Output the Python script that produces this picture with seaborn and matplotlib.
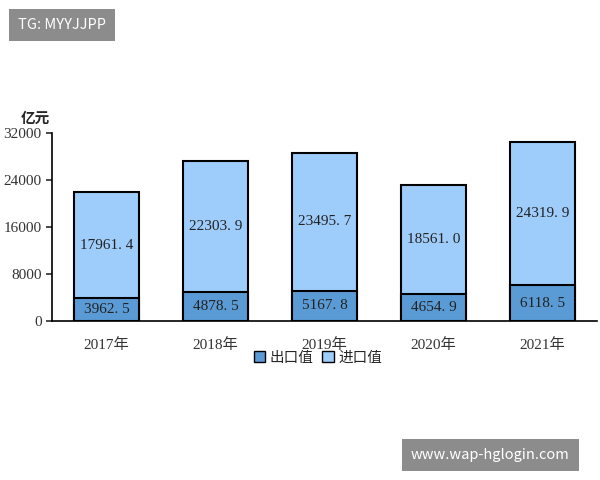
import numpy as np
import pandas as pd
import matplotlib
matplotlib.use("Agg")
import matplotlib.pyplot as plt
import seaborn as sns
from matplotlib.patches import Patch

years = ["2017年", "2018年", "2019年", "2020年", "2021年"]
export_vals = [3962.5, 4878.5, 5167.8, 4654.9, 6118.5]
import_vals = [17961.4, 22303.9, 23495.7, 18561.0, 24319.9]

sns.set_theme(style="white")
plt.rcParams["font.family"] = ["Noto Sans CJK SC", "DejaVu Sans"]

df = pd.DataFrame({"year": years, "export": export_vals, "import": import_vals})
df["total"] = df["export"] + df["import"]

fig = plt.figure(figsize=(6, 4.8), dpi=100)
ax = fig.add_axes([0.087, 0.331, 0.908, 0.392])

dark = "#5b9bd5"
light = "#9fcdfb"
sns.barplot(data=df, x="year", y="total", color=light, edgecolor="black", linewidth=1.5,
            width=0.6, saturation=1, ax=ax)
sns.barplot(data=df, x="year", y="export", color=dark, edgecolor="black", linewidth=1.5,
            width=0.6, saturation=1, ax=ax)

serif = ["Liberation Serif", "DejaVu Serif"]
for i, (e, m) in enumerate(zip(export_vals, import_vals)):
    ax.text(i, e / 2, f"{e:.1f}".replace(".", ". "), ha="center", va="center",
            fontsize=11, family=serif, color="#222222")
    ax.text(i, e + m / 2, f"{m:.1f}".replace(".", ". "), ha="center", va="center",
            fontsize=11, family=serif, color="#222222")

ax.set_ylim(0, 32000)
ax.set_yticks([0, 8000, 16000, 24000, 32000])
ax.set_xlim(-0.5, 4.5)
ax.set_xlabel("")
ax.set_ylabel("")
for s in ["top", "right"]:
    ax.spines[s].set_visible(False)
for s in ["left", "bottom"]:
    ax.spines[s].set_color("black")
    ax.spines[s].set_linewidth(1.2)
ax.tick_params(axis="y", left=True, direction="out", length=4, labelsize=11, colors="#333333")
ax.tick_params(axis="x", bottom=False, labelsize=11, colors="#333333", pad=6)
for lab in ax.get_xticklabels() + ax.get_yticklabels():
    lab.set_family(serif + ["Noto Sans CJK SC"])

fig.text(0.035, 0.745, "亿元", fontsize=10.5, fontweight="bold")

handles = [Patch(facecolor=dark, edgecolor="black", label="出口值"),
           Patch(facecolor=light, edgecolor="black", label="进口值")]
fig.legend(handles=handles, loc="center", bbox_to_anchor=(0.53, 0.255), ncol=2,
           frameon=False, fontsize=10.5, handlelength=0.8, handleheight=0.8,
           columnspacing=0.6, handletextpad=0.3)

fig.text(0.03, 0.948, "TG: MYYJJPP", fontsize=10.5, color="white", va="center",
         bbox=dict(facecolor="#8c8c8c", edgecolor="none", boxstyle="square,pad=0.6"))
fig.text(0.685, 0.052, "www.wap-hglogin.com", fontsize=10.5, color="white", va="center",
         bbox=dict(facecolor="#8c8c8c", edgecolor="none", boxstyle="square,pad=0.6"))

fig.savefig("out.png", dpi=100)
